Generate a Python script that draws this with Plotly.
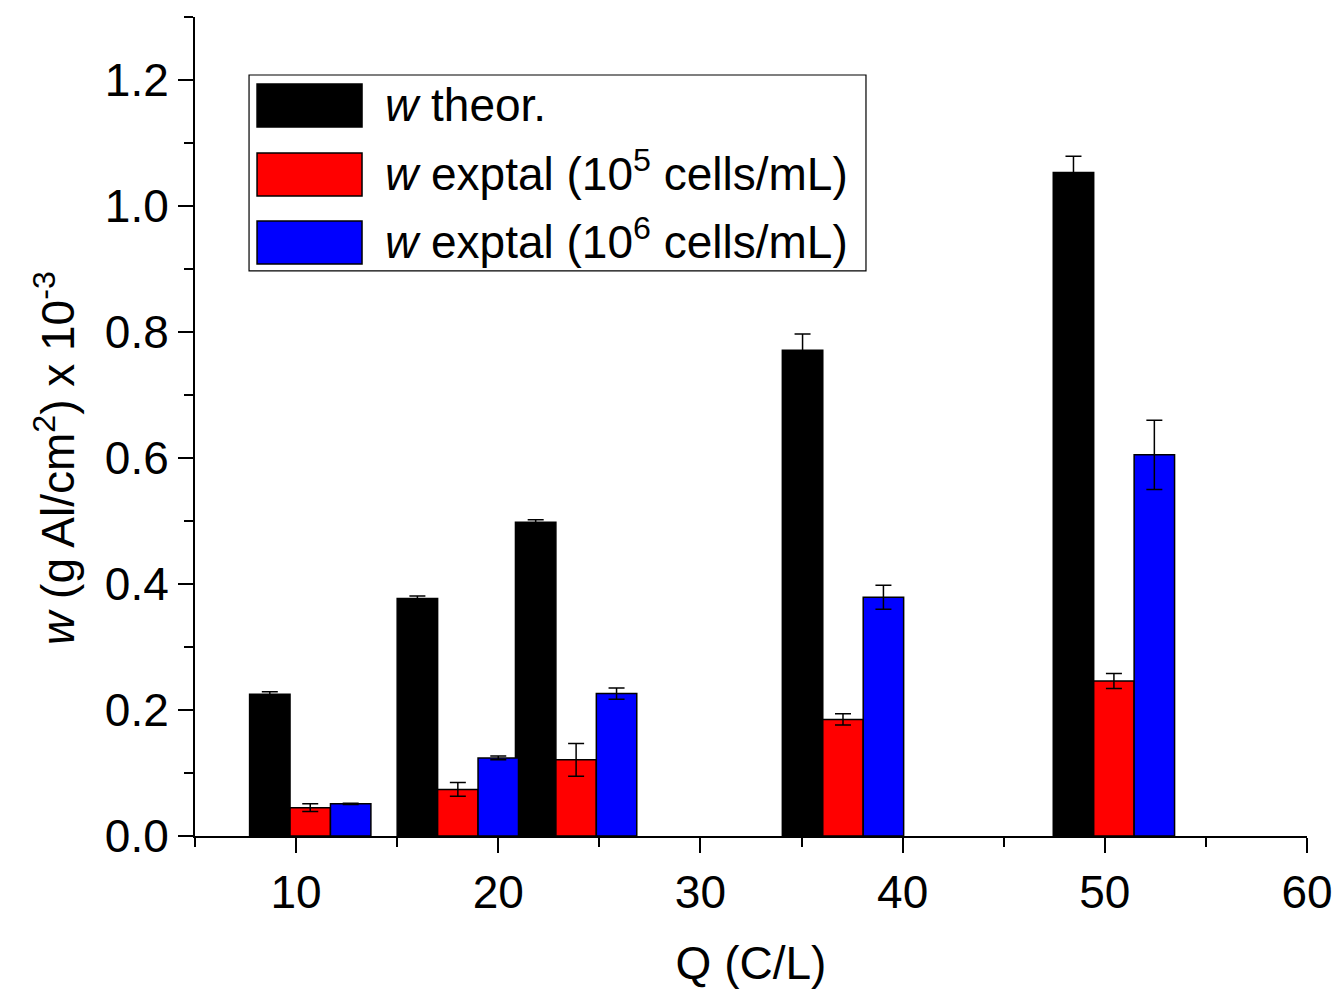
import plotly.graph_objects as go

# ---- data ----
Q = [10.7, 18.0, 23.85, 37.05, 50.45]
w_theor = [0.225, 0.377, 0.498, 0.771, 1.053]
w_theor_err = [0.004, 0.004, 0.004, 0.026, 0.026]
w_exp5 = [0.045, 0.074, 0.121, 0.185, 0.246]
w_exp5_err = [0.006, 0.011, 0.026, 0.009, 0.012]
w_exp6 = [0.051, 0.124, 0.226, 0.379, 0.605]
w_exp6_err = [0.001, 0.003, 0.009, 0.019, 0.055]

series_names = ["<i>w</i> theor.",
                "<i>w</i> exptal (10<sup>5</sup> cells/mL)",
                "<i>w</i> exptal (10<sup>6</sup> cells/mL)"]
series_colors = ["#000000", "#FF0000", "#0000FF"]
series_vals = [w_theor, w_exp5, w_exp6]
series_errs = [w_theor_err, w_exp5_err, w_exp6_err]
bar_offsets = [-3, -1, 1]
BAR_W = 2

FONT = "Liberation Sans, Arial, sans-serif"
FS = 46

fig = go.Figure()
for name, col, vals, errs, off in zip(series_names, series_colors, series_vals, series_errs, bar_offsets):
    fig.add_trace(go.Bar(
        x=Q, y=vals, width=BAR_W, offset=off, name=name,
        marker=dict(color=col, line=dict(color="black", width=1.5)),
        error_y=dict(type="data", array=errs, visible=True, color="black",
                     thickness=1.5, width=8),
        showlegend=False,
    ))

# ---- custom legend (big swatches as in the reference) ----
lx0, lx1, ly0, ly1 = 0.0486, 0.6034, 0.6899, 0.9292
fig.add_shape(type="rect", xref="paper", yref="paper", x0=lx0, x1=lx1, y0=ly0, y1=ly1,
              line=dict(color="black", width=1.2), fillcolor="white", layer="above")
row_tops = [0.9182, 0.8339, 0.7509]
row_h = 0.0525
text_dy = [0.0, 0.004, 0.004]
for name, col, top, dy in zip(series_names, series_colors, row_tops, text_dy):
    fig.add_shape(type="rect", xref="paper", yref="paper",
                  x0=0.0558, x1=0.1502, y0=top - row_h, y1=top,
                  line=dict(color="black", width=1.5), fillcolor=col, layer="above")
    fig.add_annotation(xref="paper", yref="paper", x=0.1691, y=top - row_h / 2 + dy,
                       xanchor="left", yanchor="middle", text=name, showarrow=False,
                       font=dict(family=FONT, size=FS, color="black"))

# y-axis title as rotated annotation (placed as in the reference)
fig.add_annotation(xref="paper", yref="paper", x=-0.126, y=0.4615,
                   xanchor="center", yanchor="middle", textangle=-90,
                   text="<i>w</i> (g Al/cm<sup>2</sup>) x 10<sup>-3</sup>", showarrow=False,
                   font=dict(family=FONT, size=FS, color="black"))

fig.update_layout(
    width=1340, height=993,
    margin=dict(l=195, r=33, t=17, b=157, autoexpand=False),
    paper_bgcolor="white", plot_bgcolor="white",
    barmode="overlay",
    font=dict(family=FONT, size=FS, color="black"),
    xaxis=dict(
        range=[5, 60], tick0=0, dtick=10, ticks="outside", ticklen=15, tickwidth=2,
        tickcolor="black", showline=True, linecolor="black", linewidth=2,
        showgrid=False, zeroline=False, mirror=False, automargin=False,
        minor=dict(dtick=5, ticks="outside", ticklen=9, tickwidth=2, tickcolor="black"),
        tickfont=dict(family=FONT, size=FS),
        title=dict(text="Q (C/L)", font=dict(family=FONT, size=FS), standoff=30),
    ),
    yaxis=dict(
        range=[0, 1.3], tick0=0, dtick=0.2, tickformat=".1f", ticks="outside",
        ticklen=15, tickwidth=2, tickcolor="black", showline=True, linecolor="black",
        linewidth=2, showgrid=False, zeroline=False, automargin=False,
        minor=dict(dtick=0.1, ticks="outside", ticklen=9, tickwidth=2, tickcolor="black"),
        tickfont=dict(family=FONT, size=FS),
    ),
)

fig.write_html("out.html")
